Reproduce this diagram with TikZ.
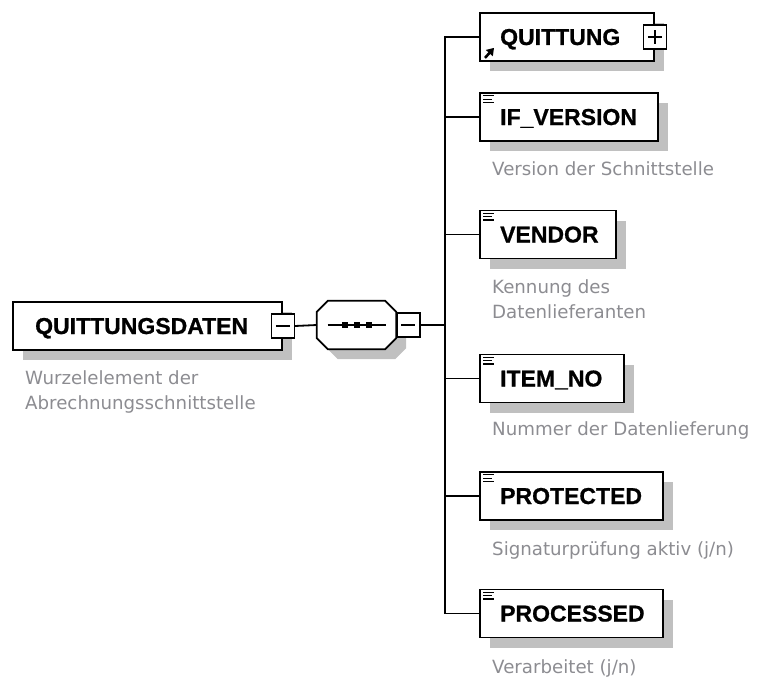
\documentclass[tikz,border=0pt]{standalone}
\usepackage{fontspec}
\setmainfont{DejaVu Sans}
\newfontfamily\namefont[BoldFeatures={FakeBold=0.8}]{Liberation Sans}
\usetikzlibrary{calc,shadows,arrows.meta}
\definecolor{shadowgray}{RGB}{192,192,192}
\definecolor{descgray}{RGB}{140,140,145}
\begin{document}
\begin{tikzpicture}[x=1pt,y=-1pt,
  boxshadow/.style={drop shadow={shadow xshift=10pt,shadow yshift=-10pt,fill=shadowgray,opacity=1}},
  elbox/.style={draw,line width=1.8pt,fill=white,inner sep=0pt,anchor=west,
    minimum height=48pt,boxshadow},
  elname/.style={anchor=base west,inner sep=0pt,font=\namefont\bfseries\fontsize{23}{23}\selectfont},
  desc/.style={anchor=base west,inner sep=0pt,text=descgray,font=\fontsize{18.2}{25}\selectfont},
  toggle/.style={draw,line width=1.4pt,fill=white,inner sep=0pt,minimum width=23pt,minimum height=24pt},
  minussign/.style={path picture={\draw[line width=1.4pt]
      ([xshift=-7pt]path picture bounding box.center) -- ([xshift=7pt]path picture bounding box.center);}},
  plussign/.style={path picture={\draw[line width=1.4pt]
      ([xshift=-7pt]path picture bounding box.center) -- ([xshift=7pt]path picture bounding box.center)
      ([yshift=-7pt]path picture bounding box.center) -- ([yshift=7pt]path picture bounding box.center);}},
  conn/.style={line width=1.8pt},
  lines icon/.style={line width=1.1pt}]
\useasboundingbox (0,0) rectangle (760,677);

% root element
\node[elbox,minimum width=269pt] (root) at (12,326) {};
\node[elname] (rootname) at (35,334) {QUITTUNGSDATEN};
\node[toggle,minussign] (roottog) at (root.east) {};
\node[desc] (rootd1) at (25,384) {Wurzelelement der};
\node[desc] (rootd2) at (25,409) {Abrechnungsschnittstelle};

% sequence compositor
\node[inner sep=0pt,minimum width=79pt,minimum height=48pt] (seq) at (356.5,325) {};
\path[draw,line width=1.8pt,fill=white,boxshadow]
  ($(seq.north west)+(11,0)$) -- ($(seq.north east)+(-11,0)$) -- ($(seq.north east)+(0,11)$)
  -- ($(seq.south east)+(0,-11)$) -- ($(seq.south east)+(-11,0)$) -- ($(seq.south west)+(11,0)$)
  -- ($(seq.south west)+(0,-11)$) -- ($(seq.north west)+(0,11)$) -- cycle;
\draw[line width=1.4pt] ($(seq.center)+(-29,0)$) -- ($(seq.center)+(29,0)$);
\foreach \dx in {-12,0,12}
  \fill ($(seq.center)+(\dx,0)+(-3,-3)$) rectangle ($(seq.center)+(\dx,0)+(3,3)$);
\node[toggle,minussign,anchor=west] (seqtog) at (seq.east) {};

% child elements
\node[elbox,minimum width=174pt] (quittung) at (479,37) {};
\node[elname] (quittungname) at (500,45) {QUITTUNG};
\node[toggle,plussign] (quittungtog) at (quittung.east) {};
\draw[line width=2.6pt,-{Triangle[length=7pt,width=9pt]}]
  ($(quittung.south west)+(6,-4)$) -- ($(quittung.south west)+(15,-14)$);

\node[elbox,minimum width=178pt] (ifversion) at (479,117) {};
\node[elname] (ifversionname) at (500,125) {IF\_VERSION};
\node[desc] (ifversiond) at (492,175) {Version der Schnittstelle};

\node[elbox,minimum width=136pt] (vendor) at (479,234.5) {};
\node[elname] (vendorname) at (500,242.5) {VENDOR};
\node[desc] (vendord1) at (492,293) {Kennung des};
\node[desc] (vendord2) at (492,318) {Datenlieferanten};

\node[elbox,minimum width=144pt] (itemno) at (479,378.5) {};
\node[elname] (itemnoname) at (500,386.5) {ITEM\_NO};
\node[desc] (itemnod) at (492,435) {Nummer der Datenlieferung};

\node[elbox,minimum width=183pt] (protected) at (479,496) {};
\node[elname] (protectedname) at (500,504) {PROTECTED};
\node[desc] (protectedd) at (492,555) {Signaturprüfung aktiv (j/n)};

\node[elbox,minimum width=183pt] (processed) at (479,613.5) {};
\node[elname] (processedname) at (500,621.5) {PROCESSED};
\node[desc] (processedd) at (492,673) {Verarbeitet (j/n)};

% simple-content markers
\foreach \n in {ifversion,vendor,itemno,protected,processed}{
  \draw[lines icon] ($(\n.north west)+(4,3.8)$) -- ($(\n.north west)+(15,3.8)$);
  \draw[lines icon] ($(\n.north west)+(4,7.1)$) -- ($(\n.north west)+(13,7.1)$);
  \draw[lines icon] ($(\n.north west)+(4,10.4)$) -- ($(\n.north west)+(15,10.4)$);
}

% connectors
\coordinate (bus) at (445,325);
\draw[conn] (roottog.east) -- (seq.west);
\draw[conn] (seqtog.east) -- (bus);
\foreach \n in {quittung,ifversion,vendor,itemno,protected,processed}
  \draw[conn] (bus) |- (\n.west);
\end{tikzpicture}
\end{document}
